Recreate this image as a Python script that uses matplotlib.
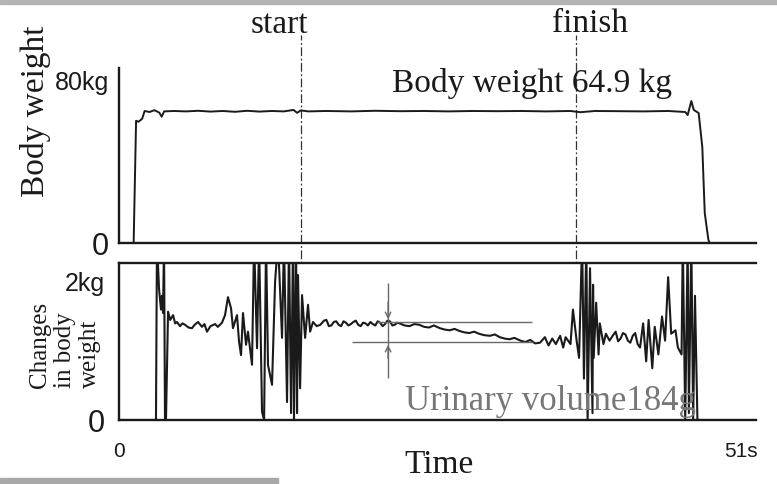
import matplotlib
matplotlib.use('Agg')
import matplotlib.pyplot as plt
from matplotlib.patches import Rectangle

# ── data ──────────────────────────────────────────────────────────
# body weight trace, time in s, weight in kg
bw_t = [0, 1.2, 1.4, 1.6, 1.9, 2.1, 2.5, 2.9, 3.3, 3.5, 3.7, 4.5, 5.5, 6.5,
        7.5, 8.5, 9.5, 10.5, 11.5, 12.5, 13.5, 14.3, 14.6, 14.9, 15.5, 17,
        19, 21, 23, 25, 27, 29, 31, 33, 35, 37, 37.8, 39, 41, 43, 45, 46.4,
        46.6, 46.9, 47.1, 47.5, 47.8, 48.0, 48.3, 48.4, 52.2]
bw_kg = [0, 0, 60.0, 59.5, 61.0, 64.8, 64.3, 65.2, 64.0, 62.0, 64.6, 64.8,
         64.6, 64.9, 64.5, 64.8, 64.4, 64.9, 64.5, 64.8, 64.6, 65.3, 63.9,
         65.1, 64.6, 64.8, 64.6, 64.9, 64.7, 64.8, 64.6, 64.8, 64.7, 64.8,
         64.6, 64.8, 64.2, 64.8, 64.7, 64.6, 64.8, 64.3, 62.8, 69.7, 65.3,
         63.8, 47.1, 14.7, 1.5, 0, 0]

# changes in body weight, time in s, kg
ch_t = [0, 3.03, 3.11, 3.28, 3.44, 3.52, 3.61, 3.69, 3.77, 3.85, 4.02, 4.2,
        4.43, 4.6, 4.75, 5.0, 5.2, 5.41, 5.7, 5.98, 6.2, 6.48, 6.8, 7.0,
        7.21, 7.5, 7.87, 8.1, 8.44, 8.69, 8.93, 9.18, 9.34,
        9.67, 9.84, 10.0, 10.16, 10.41, 10.57, 10.9, 11.07, 11.31, 11.48,
        11.72, 11.89, 12.05, 12.21, 12.54, 12.79, 13.03, 13.36, 13.52, 13.77,
        13.93, 14.1, 14.26, 14.34, 14.51, 14.59, 14.67, 14.84, 15.0, 15.25,
        15.49, 15.66, 15.9, 16.2, 16.5, 16.8, 17.0, 17.2, 17.4, 17.6, 17.8,
        18.0, 18.2, 18.4, 18.6, 18.8, 19.0, 19.2, 19.4, 19.6, 19.8, 20.0,
        20.2, 20.4, 20.6, 20.8, 21.0, 21.2, 21.4, 21.6, 21.8, 22.0, 22.2,
        22.4, 22.6, 22.8, 23.0, 23.4, 23.8, 24.2, 24.6, 25.0, 25.4, 25.8,
        26.3, 26.7, 27.1, 27.5, 27.9, 28.3, 28.7, 29.1, 29.5, 29.9, 30.4,
        30.8, 31.2, 31.6, 32.0, 32.4, 32.9, 33.3, 33.7, 34.1,
        34.5, 34.9, 35.2, 35.5, 35.8, 36.15, 36.4, 36.6, 37.0, 37.2, 37.5,
        37.7, 37.95, 38.1, 38.3, 38.4, 38.6, 38.8, 38.85, 38.9, 39.1, 39.3,
        39.4, 39.7, 39.9, 40.2, 40.45, 40.7, 40.9, 41.1, 41.3, 41.5, 41.7,
        41.9, 42.1, 42.3, 42.5, 42.7, 42.95,
        43.2, 43.4, 43.7, 43.9, 44.2, 44.5, 44.75, 45.0, 45.25, 45.6, 45.8,
        46.1, 46.2, 46.4, 46.6, 46.7, 46.9, 47.05, 47.2, 47.4, 52.2]
ch_kg = [0, 0, 2.6, 1.9, 1.6, 1.8, 1.55, 2.6, 0, 0, 1.57, 1.45,
         1.52, 1.40, 1.42, 1.36, 1.40, 1.38, 1.34, 1.33, 1.38, 1.42, 1.35,
         1.39, 1.28, 1.36, 1.39, 1.35, 1.41, 1.52, 1.78, 1.62, 1.33,
         1.52, 1.13, 0.94, 1.55, 1.09, 1.28, 0.80, 2.6, 1.04, 2.6,
         0.12, 0, 2.6, 0.80, 0.51, 2.0, 2.6, 1.19, 2.6, 0.26,
         2.6, 0.10, 2.6, 0, 2.6, 0.1, 2.1, 0.46, 1.81, 1.19,
         1.67, 1.28, 1.42, 1.36, 1.38, 1.44, 1.45, 1.36, 1.37, 1.42, 1.43,
         1.38, 1.36, 1.43, 1.41, 1.37, 1.39, 1.42, 1.44, 1.38, 1.36, 1.41,
         1.40, 1.37, 1.42, 1.39, 1.37, 1.43, 1.41, 1.36, 1.39, 1.44, 1.43,
         1.37, 1.38, 1.41, 1.40, 1.37, 1.36, 1.39, 1.38, 1.35, 1.34, 1.37,
         1.33, 1.31, 1.30, 1.32, 1.29, 1.27, 1.26, 1.28, 1.25, 1.23, 1.22,
         1.24, 1.20, 1.18, 1.17, 1.19, 1.15, 1.13, 1.16, 1.11,
         1.12, 1.20, 1.08, 1.18, 1.10, 1.22, 1.05, 1.20, 1.10, 1.60, 1.15,
         0.9, 2.6, 0.6, 2.6, 0.0, 2.2, 0.1, 1.96, 0.9, 1.7, 0.95,
         1.4, 1.1, 1.25, 1.15, 1.22, 1.28, 1.14, 1.18, 1.26, 1.24, 1.15,
         1.12, 1.22, 1.26, 1.10, 1.05, 1.40,
         0.85, 1.45, 0.75, 1.35, 0.95, 1.50, 1.15, 2.07, 1.25, 1.30, 1.05,
         0.95, 2.6, 0.0, 2.6, 0.1, 2.6, 0.0, 1.8, 0.0, 0]

t_start, t_finish = 14.92, 37.46
urine_hi, urine_lo = 1.42, 1.13      # levels marked by the arrows
urine_x = 22.05

SERIF = ['Liberation Serif', 'DejaVu Serif']
SANS = ['Liberation Sans', 'DejaVu Sans']
INK = '#1a1a1a'

W, H = 777, 484
def fx(px): return px / W
def fy(py): return 1 - py / H

fig = plt.figure(figsize=(W / 100, H / 100), dpi=100, facecolor='white')

ax1 = fig.add_axes([fx(119), fy(243), (756 - 119) / W, (243 - 68) / H])
ax2 = fig.add_axes([fx(119), fy(420), (756 - 119) / W, (420 - 263) / H])

for ax in (ax1, ax2):
    ax.set_xlim(0, 52.2)
    ax.spines['right'].set_visible(False)
    for s in ('left', 'bottom', 'top'):
        ax.spines[s].set_linewidth(1.7)
        ax.spines[s].set_color(INK)
    ax.tick_params(length=0)
ax1.spines['top'].set_visible(False)

# ── top panel: body weight ───────────────────────────────────────
ax1.plot(bw_t, bw_kg, color=INK, lw=1.4)
ax1.set_ylim(0, 85.9)
ax1.set_xticks([])
ax1.set_yticks([0, 80])
ax1.set_yticklabels(['0', '80kg'], family=SANS, color=INK)
ax1.tick_params(axis='y', pad=7)
ax1.get_yticklabels()[0].set_fontsize(22)
ax1.get_yticklabels()[1].set_fontsize(18)

# start / finish dash-dot markers through both panels
for t in (t_start, t_finish):
    ax1.axvline(t, ymin=-0.983, ymax=1.19, clip_on=False, color='#333333',
                lw=0.9, ls=(0, (7, 2, 1.5, 2)), zorder=1)

# ── bottom panel: changes in body weight ─────────────────────────
ax2.plot(ch_t, ch_kg, color=INK, lw=1.5)
ax2.set_ylim(0, 2.275)
ax2.set_yticks([0, 2])
ax2.set_yticklabels(['0', '2kg'], family=SANS, color=INK)
ax2.tick_params(axis='y', pad=10)
ax2.get_yticklabels()[0].set_fontsize(22)
ax2.get_yticklabels()[1].set_fontsize(18)
ax2.set_xticks([0, 51])
ax2.set_xticklabels(['0', '51s'], family=SANS, fontsize=15, color=INK)
ax2.tick_params(axis='x', pad=16)

GREY = '#6a6a6a'
ax2.hlines(urine_hi, 21.15, 33.85, color=GREY, lw=1.0)
ax2.hlines(urine_lo, 19.1, 33.9, color=GREY, lw=1.0)
ax2.vlines(urine_x, 0.61, 1.99, color=GREY, lw=1.0)
ax2.annotate('', xy=(urine_x, urine_hi), xytext=(urine_x, 1.75),
             arrowprops=dict(arrowstyle='->', color=GREY, lw=1.0))
ax2.annotate('', xy=(urine_x, urine_lo), xytext=(urine_x, 0.85),
             arrowprops=dict(arrowstyle='->', color=GREY, lw=1.0))

# ── texts ─────────────────────────────────────────────────────────
fig.text(fx(279), fy(33), 'start', family=SERIF, fontsize=24, color=INK,
         ha='center', va='baseline')
fig.text(fx(590), fy(32), 'finish', family=SERIF, fontsize=24, color=INK,
         ha='center', va='baseline')
fig.text(fx(392), fy(92), 'Body weight 64.9 kg', family=SERIF, fontsize=24,
         color=INK, ha='left', va='baseline')
fig.text(fx(36), fy(111), 'Body weight', family=SERIF, fontsize=24,
         color=INK, rotation=90, ha='center', va='center')
fig.text(fx(65), fy(388), 'Changes\nin body\nweight', family=SERIF,
         fontsize=18, color=INK, rotation=90, ha='center', va='bottom',
         multialignment='left', linespacing=1.15)
fig.text(fx(405), fy(410), 'Urinary volume184g', family=SERIF, fontsize=25,
         color='#777777', ha='left', va='baseline')
fig.text(fx(404), fy(473), 'Time', family=SERIF, fontsize=24, color=INK,
         ha='left', va='baseline')

# scan edges
fig.patches.append(Rectangle((0, fy(4)), 1, 4 / H, transform=fig.transFigure,
                             color='#b4b4b4', zorder=0))
fig.patches.append(Rectangle((0, 0), 278 / W, 6 / H, transform=fig.transFigure,
                             color='#a8a8a8', zorder=0))

fig.savefig('out.png', dpi=100, facecolor='white')
